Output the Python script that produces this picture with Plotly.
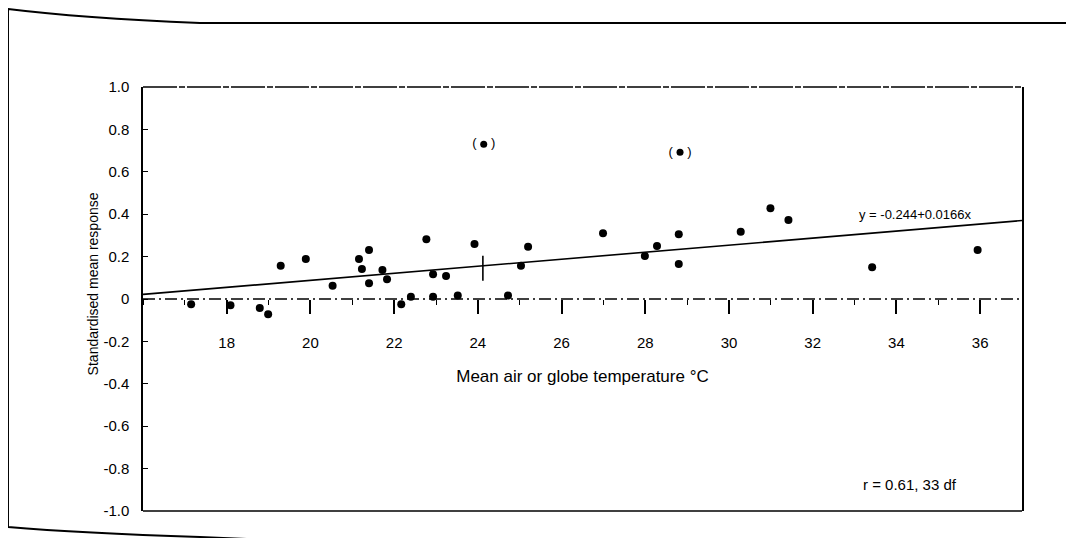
import plotly.graph_objects as go

# ---- data ----
temp = [17.15, 18.09, 18.79, 18.99, 19.29, 19.89, 20.53, 21.16, 21.23, 21.40,
        21.40, 21.72, 21.83, 22.17, 22.40, 22.77, 22.93, 22.93, 23.24, 23.52,
        23.92, 24.72, 25.03, 25.20, 26.99, 27.99, 28.28, 28.80, 28.80, 30.28,
        30.99, 31.42, 33.42, 35.94]
resp = [-0.025, -0.030, -0.042, -0.072, 0.157, 0.189, 0.063, 0.189, 0.142, 0.231,
        0.074, 0.137, 0.093, -0.025, 0.011, 0.282, 0.117, 0.011, 0.108, 0.017,
        0.259, 0.016, 0.157, 0.247, 0.310, 0.203, 0.250, 0.305, 0.165, 0.317,
        0.428, 0.373, 0.150, 0.231]

# bracketed (excluded) points
excl_temp = [24.14, 28.83]
excl_resp = [0.730, 0.692]

# mean marker on regression line
mean_temp = [24.12]
mean_resp = [0.145]

# regression y = a + b x
reg_a = -0.244
reg_b = 0.0166
x_range = [16, 37]

x_ticks = [18, 20, 22, 24, 26, 28, 30, 32, 34, 36]
y_ticks = [1.0, 0.8, 0.6, 0.4, 0.2, 0, -0.2, -0.4, -0.6, -0.8, -1.0]
y_tick_text = ["1.0", "0.8", "0.6", "0.4", "0.2", "0", "-0.2", "-0.4", "-0.6", "-0.8", "-1.0"]

FONT = "Liberation Sans"

fig = go.Figure()

# regression line
reg_y = [reg_a + reg_b * v for v in x_range]
fig.add_trace(go.Scatter(x=x_range, y=reg_y, mode="lines",
                         line=dict(color="black", width=1.6), showlegend=False))

# zero reference line (dash-dot)
fig.add_trace(go.Scatter(x=x_range, y=[0, 0], mode="lines",
                         line=dict(color="black", width=1.3, dash="12px,4px,2px,4px"),
                         showlegend=False))

fig.add_trace(go.Scatter(x=temp, y=resp, mode="markers",
                         marker=dict(color="black", size=8), showlegend=False))

fig.add_trace(go.Scatter(x=excl_temp, y=excl_resp, mode="markers+text",
                         marker=dict(color="black", size=7),
                         text=["(    )", "(    )"], textposition="middle center",
                         textfont=dict(family=FONT, size=13, color="black"),
                         showlegend=False))

fig.add_trace(go.Scatter(x=mean_temp, y=mean_resp, mode="markers",
                         marker=dict(symbol="line-ns-open", size=18, color="black",
                                     line=dict(color="black", width=1.6)),
                         showlegend=False))

fig.update_layout(
    width=1066, height=530,
    margin=dict(l=135, r=52, t=79, b=27),
    paper_bgcolor="white", plot_bgcolor="white",
    font=dict(family=FONT, color="black", size=14),
    xaxis=dict(range=x_range, anchor="free", position=0.5,
               showline=False, showgrid=False, zeroline=False,
               tickvals=x_ticks, ticks="outside", ticklen=14, tickwidth=1.5,
               tickcolor="black", ticklabelstandoff=16,
               tickfont=dict(family=FONT, size=15),
               minor=dict(dtick=1, tick0=0, ticks="outside", ticklen=5,
                          tickcolor="black", tickwidth=1.2),
               title=dict(text="Mean air or globe temperature °C",
                          font=dict(family=FONT, size=17), standoff=20)),
    yaxis=dict(range=[-1, 1], showline=True, linecolor="black", linewidth=1.5,
               mirror=True, showgrid=False, zeroline=False,
               tickvals=y_ticks, ticktext=y_tick_text,
               ticks="inside", ticklen=5, tickcolor="black",
               ticklabelstandoff=9, tickfont=dict(family=FONT, size=15)),
    annotations=[
        dict(text="Standardised mean response", textangle=-90,
             xref="paper", yref="paper", x=-0.068, y=0.535,
             showarrow=False, font=dict(family=FONT, size=14)),
        dict(text="y = -0.244+0.0166x", xref="x", yref="y", x=34.45, y=0.40,
             showarrow=False, font=dict(family=FONT, size=13)),
        dict(text="r = 0.61, 33 df", xref="x", yref="y", x=34.33, y=-0.877,
             showarrow=False, font=dict(family=FONT, size=15)),
    ],
    shapes=[
        # dashed top border of plot
        dict(type="line", xref="paper", yref="paper", x0=0, x1=1, y0=1, y1=1,
             line=dict(color="black", width=1.5, dash="34px,2px,6px,2px")),
        # solid bottom border
        dict(type="line", xref="paper", yref="paper", x0=0, x1=1, y0=0, y1=0,
             line=dict(color="black", width=1.6)),
        # page frame of the scan
        dict(type="path", xref="paper", yref="paper",
             path="M 1.0592 1.151 L 0.0648 1.151 Q -0.0717 1.163 -0.1536 1.184 "
                  "L -0.1536 -0.0377 Q -0.0717 -0.0519 0.0648 -0.0613 L 0.1445 -0.0684",
             line=dict(color="black", width=2)),
    ],
)

fig.write_html("out.html")
